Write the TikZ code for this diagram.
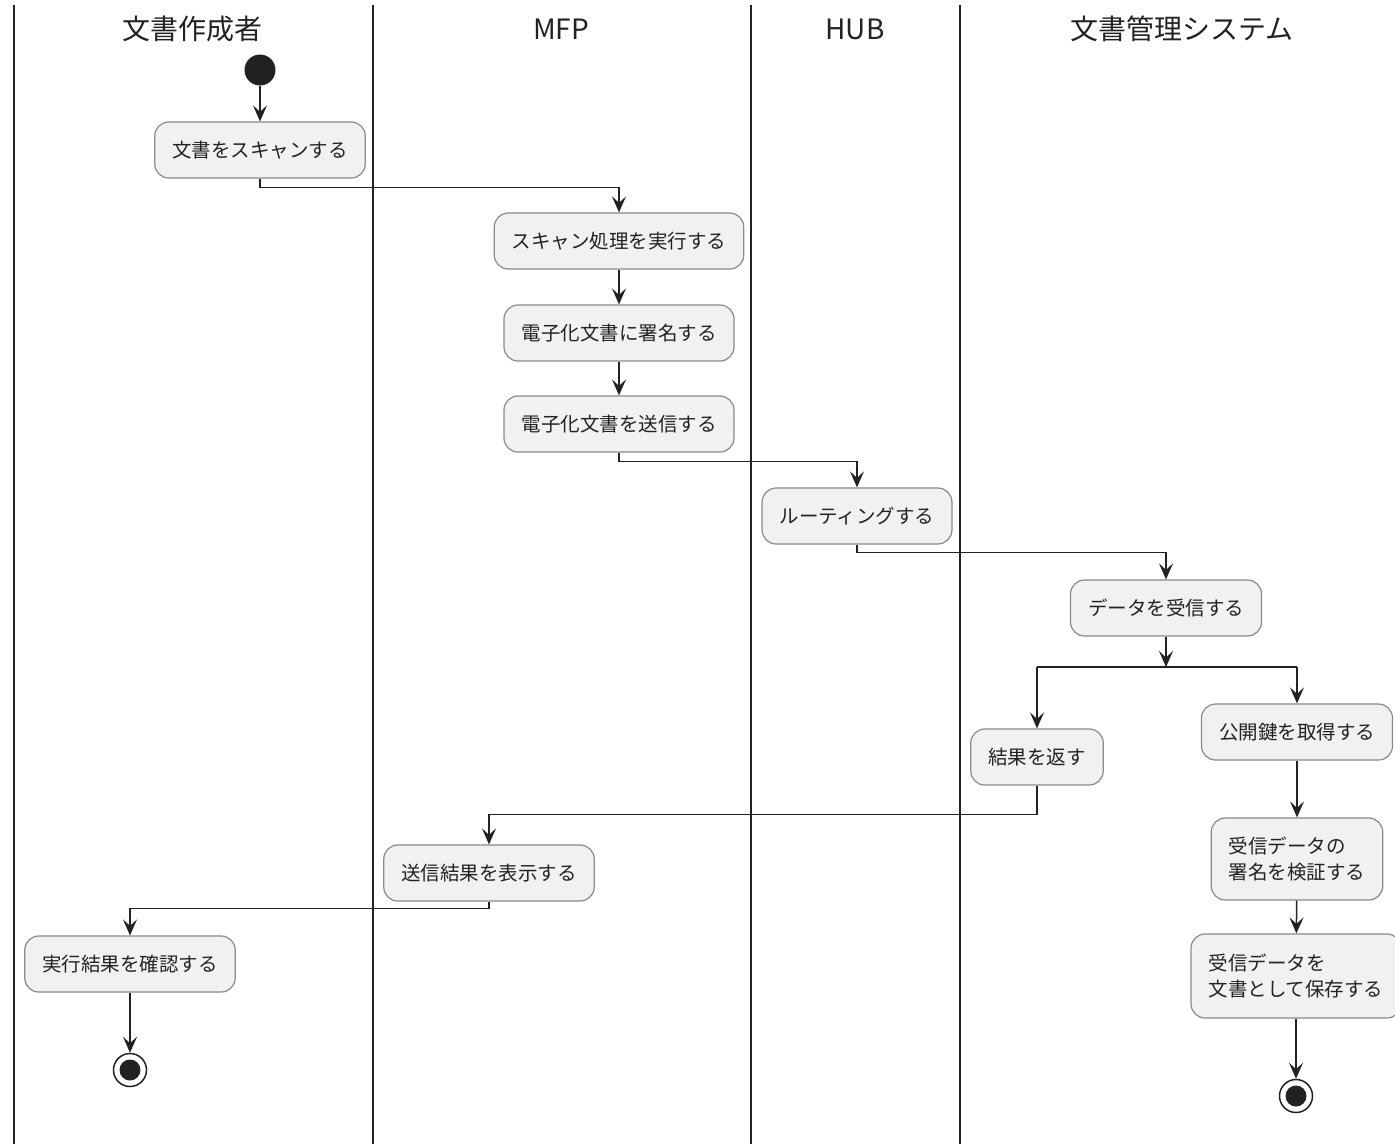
\documentclass[tikz,border=0pt]{standalone}
\usepackage{fontspec}
\setmainfont{Noto Sans CJK JP}
\usetikzlibrary{arrows.meta,positioning}
\definecolor{boxfill}{HTML}{F1F1F1}
\definecolor{boxline}{HTML}{8A8A8A}
\definecolor{ink}{HTML}{222222}
\tikzset{
  act/.style={rectangle, rounded corners=14pt, draw=boxline, fill=boxfill, line width=1.2pt,
    inner xsep=17.5pt, inner ysep=6pt, minimum height=56pt, align=left,
    font=\fontsize{19.5}{26}\selectfont, text=ink},
  act2/.style={act, minimum height=82pt},
  arr/.style={draw=ink, line width=1.5pt, -{Stealth[length=16pt,width=14pt,inset=6.5pt]}},
  lane/.style={draw=ink, line width=2.4pt},
  hdr/.style={font=\fontsize{28}{32}\selectfont, text=ink},
  startnode/.style={circle, fill=ink, minimum size=31pt, inner sep=0pt},
  endnode/.style={circle, draw=ink, fill=white, line width=1.5pt, minimum size=33pt, inner sep=0pt},
  bar/.style={draw=ink, line width=2.6pt}
}
\begin{document}
\begin{tikzpicture}[x=1pt,y=-1pt]
\useasboundingbox[fill=white] (0,0) rectangle (1395,1144);
% lanes
\draw[lane] (14,5) -- (14,1144);
\draw[lane] (373,5) -- (373,1144);
\draw[lane] (751,5) -- (751,1144);
\draw[lane] (960,5) -- (960,1144);
% headers
\node[hdr] (h1) at (192,29) {文書作成者};
\node[hdr] (h2) at (561,29) {MFP};
\node[hdr] (h3) at (855,29) {HUB};
\node[hdr] (h4) at (1182,29) {文書管理システム};
% nodes
\node[startnode] (start) at (260,70) {};
\node[act] (a1) at (260,150) {文書をスキャンする};
\node[act] (a2) at (619,241) {スキャン処理を実行する};
\node[act] (a3) at (619,333) {電子化文書に署名する};
\node[act] (a4) at (619,424) {電子化文書を送信する};
\node[act] (a5) at (857,516) {ルーティングする};
\node[act] (a6) at (1166,608) {データを受信する};
\coordinate (fork) at (1166,667);
\coordinate (forkL) at (1037,667);
\coordinate (forkR) at (1297,667);
\node[act] (a7) at (1037,757) {結果を返す};
\node[act] (a8) at (1297,732) {公開鍵を取得する};
\node[act2] (a9) at (1297,859) {受信データの\\署名を検証する};
\node[act2, minimum height=84pt] (a10) at (1296,976) {受信データを\\文書として保存する};
\node[endnode] (end2) at (1296,1096) {};
\fill[ink] (end2.center) circle (10.5pt);
\node[act] (a11) at (489,873) {送信結果を表示する};
\node[act] (a12) at (130,964) {実行結果を確認する};
\node[endnode] (end1) at (130,1070) {};
\fill[ink] (end1.center) circle (10.5pt);
% connectors
\draw[arr] (start) -- (a1);
\draw[arr] (a1.south) -- ++(0,9) -| (a2.north);
\draw[arr] (a2) -- (a3);
\draw[arr] (a3) -- (a4);
\draw[arr] (a4.south) -- ++(0,9) -| (a5.north);
\draw[arr] (a5.south) -- ++(0,8) -| (a6.north);
\draw[arr] (a6.south) -- (fork);
\draw[bar] (forkL) -- (forkR);
\draw[arr] (forkL) -- (a7.north);
\draw[arr] (forkR) -- (a8.north);
\draw[arr] (a8) -- (a9);
\draw[arr] (a9) -- (a10);
\draw[arr] (a10) -- (end2);
\draw[arr] (a7.south) -- ++(0,29) -| (a11.north);
\draw[arr] (a11.south) -- ++(0,7) -| (a12.north);
\draw[arr] (a12) -- (end1);
\end{tikzpicture}
\end{document}
